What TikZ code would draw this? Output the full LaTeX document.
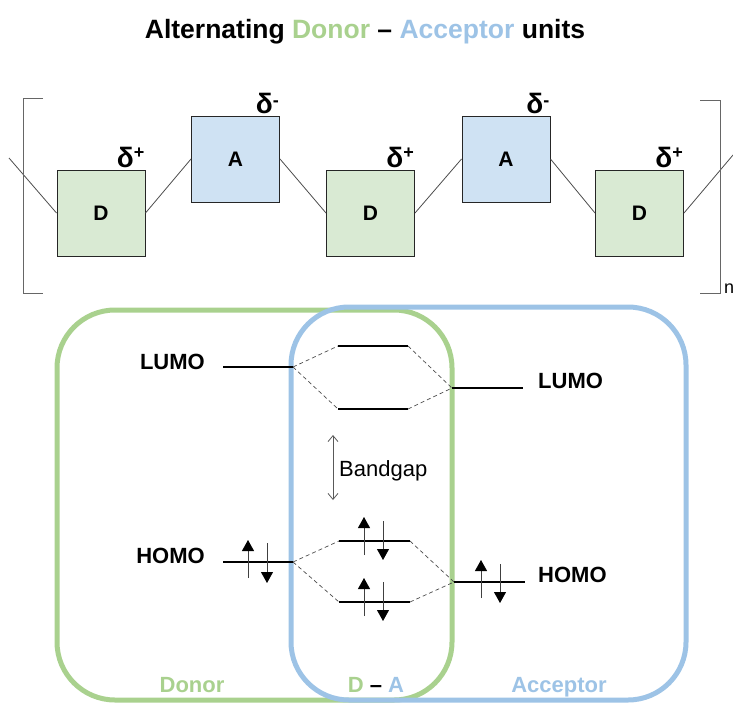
\documentclass[tikz,border=0pt]{standalone}
\usepackage{fontspec}
\setmainfont{Liberation Sans}
\usetikzlibrary{arrows.meta}
\definecolor{dgreen}{HTML}{A9D18E}
\definecolor{dblue}{HTML}{9DC3E6}
\definecolor{fgreen}{HTML}{D9EAD3}
\definecolor{fblue}{HTML}{CFE2F3}
\begin{document}
\begin{tikzpicture}[x=1pt,y=-1pt,
  unitD/.style={draw=black!85, line width=1pt, fill=fgreen, minimum width=88pt, minimum height=86pt, inner sep=0pt, font=\fontsize{21}{24}\selectfont\bfseries},
  unitA/.style={unitD, fill=fblue},
  link/.style={draw=black!70, line width=0.8pt},
  brk/.style={draw=black!60, line width=0.8pt},
  delta/.style={inner sep=0pt, anchor=south east, xshift=-1pt, yshift=2pt, font=\fontsize{28}{30}\selectfont\bfseries},
  lvl/.style={line width=2.6pt, black},
  corr/.style={draw=black!70, line width=0.7pt, dash pattern=on 4pt off 3pt},
  lab/.style={inner sep=0pt, font=\fontsize{22}{26}\selectfont\bfseries},
  spin/.style={line width=0.9pt, black!75, -{Triangle[length=11pt,width=12pt,color=black]}},
  gap/.style={line width=0.8pt, black!65, {Straight Barb[length=6pt,width=10pt]}-{Straight Barb[length=6pt,width=10pt]}},
  region/.style={line width=5pt, rounded corners=58pt}
]
\useasboundingbox (0,0) rectangle (733,704);

% title
\node[inner sep=0pt, anchor=base, font=\fontsize{26.5}{30}\selectfont\bfseries] (title) at (365,38)
  {Alternating \textcolor{dgreen}{Donor} – \textcolor{dblue}{Acceptor} units};

% polymer chain
\node[unitD] (D1) at (101,213) {D};
\node[unitA] (A1) at (235.5,159) {A};
\node[unitD] (D2) at (370.5,213) {D};
\node[unitA] (A2) at (506,159) {A};
\node[unitD] (D3) at (639.5,213) {D};

\node[delta] (dp1) at (D1.north east) {δ\raisebox{9pt}{\fontsize{18}{18}\selectfont +}};
\node[delta] (dm1) at (A1.north east) {δ\raisebox{7pt}{\fontsize{18}{18}\selectfont -}};
\node[delta] (dp2) at (D2.north east) {δ\raisebox{9pt}{\fontsize{18}{18}\selectfont +}};
\node[delta] (dm2) at (A2.north east) {δ\raisebox{7pt}{\fontsize{18}{18}\selectfont -}};
\node[delta] (dp3) at (D3.north east) {δ\raisebox{9pt}{\fontsize{18}{18}\selectfont +}};

\coordinate (offL) at (9,158);
\coordinate (offR) at (733,155);
\draw[link] (offL) -- (D1.west);
\draw[link] (D1.east) -- (A1.west);
\draw[link] (A1.east) -- (D2.west);
\draw[link] (D2.east) -- (A2.west);
\draw[link] (A2.east) -- (D3.west);
\draw[link] (D3.east) -- (offR);

% brackets
\draw[brk] (43,98) -- (23,98) -- (23,293) -- (43,293);
\draw[brk] (700,100) -- (720,100) -- (720,293) -- (700,293);
\node[inner sep=0pt, anchor=base west, font=\fontsize{18}{20}\selectfont] (nlab) at (724,293) {n};

% regions
\draw[region, dgreen] (57,310) rectangle (452,700);
\draw[region, dblue] (291,307) rectangle (686,700);

% energy levels
\coordinate (dL1) at (223,367); \coordinate (dL2) at (293,367);
\coordinate (dH1) at (223,562); \coordinate (dH2) at (293,562);
\coordinate (mL1) at (338,346); \coordinate (mL2) at (408,346);
\coordinate (mLb1) at (338,409); \coordinate (mLb2) at (408,409);
\coordinate (mH1) at (339,541); \coordinate (mH2) at (410,541);
\coordinate (mHb1) at (339,602); \coordinate (mHb2) at (410,602);
\coordinate (aL1) at (452,388); \coordinate (aL2) at (523,388);
\coordinate (aH1) at (454,582); \coordinate (aH2) at (525,582);

\draw[corr] (dL2) -- (mL1);
\draw[corr] (dL2) -- (mLb1);
\draw[corr] (mL2) -- (aL1);
\draw[corr] (mLb2) -- (aL1);
\draw[corr] (dH2) -- (mH1);
\draw[corr] (dH2) -- (mHb1);
\draw[corr] (mH2) -- (aH1);
\draw[corr] (mHb2) -- (aH1);

\draw[lvl] (dL1) -- (dL2);
\draw[lvl] (dH1) -- (dH2);
\draw[lvl] (mL1) -- (mL2);
\draw[lvl] (mLb1) -- (mLb2);
\draw[lvl] (mH1) -- (mH2);
\draw[lvl] (mHb1) -- (mHb2);
\draw[lvl] (aL1) -- (aL2);
\draw[lvl] (aH1) -- (aH2);

% spins
\draw[spin] ([xshift=25pt,yshift=-16pt]dH1) -- ([xshift=25pt,yshift=22pt]dH1);
\draw[spin] ([xshift=44pt,yshift=19pt]dH1) -- ([xshift=44pt,yshift=-21pt]dH1);
\draw[spin] ([xshift=25pt,yshift=-14pt]mH1) -- ([xshift=25pt,yshift=24pt]mH1);
\draw[spin] ([xshift=44pt,yshift=20pt]mH1) -- ([xshift=44pt,yshift=-19pt]mH1);
\draw[spin] ([xshift=25pt,yshift=-14pt]mHb1) -- ([xshift=25pt,yshift=24pt]mHb1);
\draw[spin] ([xshift=44pt,yshift=20pt]mHb1) -- ([xshift=44pt,yshift=-19pt]mHb1);
\draw[spin] ([xshift=27pt,yshift=-16pt]aH1) -- ([xshift=27pt,yshift=22pt]aH1);
\draw[spin] ([xshift=46pt,yshift=18pt]aH1) -- ([xshift=46pt,yshift=-21pt]aH1);

% labels
\node[lab, anchor=base east] (lumoD) at (205,369) {LUMO};
\node[lab, anchor=base east] (homoD) at (205,563) {HOMO};
\node[lab, anchor=base west] (lumoA) at (538,388) {LUMO};
\node[lab, anchor=base west] (homoA) at (538,582) {HOMO};

% bandgap
\coordinate (bgT) at (333,435);
\coordinate (bgB) at (333,500);
\draw[gap] (bgT) -- (bgB);
\node[inner sep=0pt, anchor=base west, font=\fontsize{22}{26}\selectfont] (bg) at (339,476) {Bandgap};

% region labels
\node[lab, anchor=base, text=dgreen] (donor) at (192,692) {Donor};
\node[lab, anchor=base] (da) at (376,692) {\textcolor{dgreen}{D} – \textcolor{dblue}{A}};
\node[lab, anchor=base, text=dblue] (acc) at (559,692) {Acceptor};
\end{tikzpicture}
\end{document}
